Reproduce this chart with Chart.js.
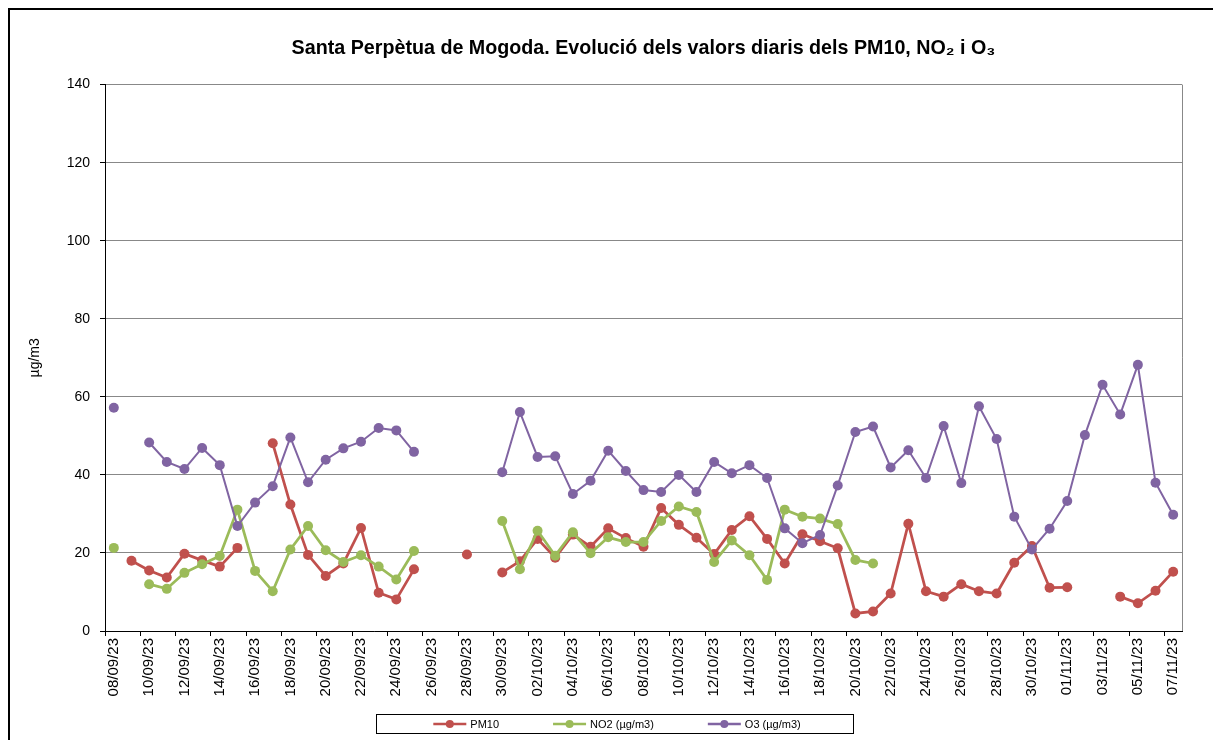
<!DOCTYPE html>
<html>
<head>
<meta charset="utf-8">
<script src="https://cdn.jsdelivr.net/npm/chart.js@4/dist/chart.umd.min.js"></script>
<style>
  html, body { margin: 0; padding: 0; background: #fff; }
  canvas { display: block; }
</style>
</head>
<body>
<canvas id="grafic" width="1213" height="740"></canvas>
<script>
/* ── DADES ── valors llegits del gràfic original */
var dies = [
  '08/09/23', '09/09/23', '10/09/23', '11/09/23', '12/09/23', '13/09/23', '14/09/23', '15/09/23',
  '16/09/23', '17/09/23', '18/09/23', '19/09/23', '20/09/23', '21/09/23', '22/09/23', '23/09/23',
  '24/09/23', '25/09/23', '26/09/23', '27/09/23', '28/09/23', '29/09/23', '30/09/23',
  '01/10/23', '02/10/23', '03/10/23', '04/10/23', '05/10/23', '06/10/23', '07/10/23', '08/10/23',
  '09/10/23', '10/10/23', '11/10/23', '12/10/23', '13/10/23', '14/10/23', '15/10/23', '16/10/23',
  '17/10/23', '18/10/23', '19/10/23', '20/10/23', '21/10/23', '22/10/23', '23/10/23', '24/10/23',
  '25/10/23', '26/10/23', '27/10/23', '28/10/23', '29/10/23', '30/10/23', '31/10/23',
  '01/11/23', '02/11/23', '03/11/23', '04/11/23', '05/11/23', '06/11/23', '07/11/23'
];

var pm10 = [
  null, 18.0, 15.5, 13.7, 19.8, 18.1, 16.5, 21.3, null, 48.1, 32.4, 19.5, 14.1, 17.3, 26.4, 9.8,
  8.1, 15.8, null, null, 19.6, null, 15.0, 17.9, 23.6, 18.8, 24.7, 21.6, 26.3, 23.8, 21.6, 31.5,
  27.2, 23.9, 19.7, 25.9, 29.4, 23.6, 17.3, 24.8, 23.0, 21.2, 4.5, 5.0, 9.6, 27.5, 10.2, 8.8,
  12.0, 10.2, 9.6, 17.5, 21.8, 11.1, 11.2, null, null, 8.8, 7.1, 10.3, 15.2
];

var no2 = [
  21.3, null, 12.0, 10.8, 14.9, 17.1, 19.2, 31.1, 15.4, 10.2, 20.9, 26.9, 20.7, 17.7, 19.4, 16.5,
  13.2, 20.5, null, null, null, null, 28.2, 15.8, 25.7, 19.3, 25.3, 19.9, 24.0, 22.8, 22.8, 28.2,
  31.9, 30.5, 17.7, 23.2, 19.4, 13.1, 31.1, 29.3, 28.8, 27.4, 18.2, 17.3, null, null, null, null,
  null, null, null, null, null, null, null, null, null, null, null, null, null
];

var o3 = [
  57.2, null, 48.3, 43.3, 41.5, 46.9, 42.5, 26.9, 32.9, 37.1, 49.6, 38.1, 43.9, 46.8, 48.5, 52.0,
  51.4, 45.9, null, null, null, null, 40.7, 56.1, 44.6, 44.8, 35.1, 38.5, 46.2, 41.0, 36.1, 35.6,
  40.0, 35.6, 43.3, 40.4, 42.5, 39.2, 26.3, 22.5, 24.6, 37.3, 51.0, 52.4, 41.9, 46.3, 39.2, 52.5,
  37.9, 57.6, 49.2, 29.3, 20.9, 26.2, 33.3, 50.2, 63.1, 55.5, 68.2, 38.0, 29.8
];

var series = ['PM10', 'NO2 (µg/m3)', 'O3 (µg/m3)'];
var colors = ['#c0504d', '#9bbb59', '#8064a2'];

Chart.defaults.font.family = "'Liberation Sans', Arial, sans-serif";
Chart.defaults.color = '#000';

/* marc exterior, vora dreta de l'àrea i llegenda amb caixa */
var decoracio = {
  id: 'decoracio',
  beforeDatasetsDraw: function (chart) {
    var a = chart.chartArea, ctx = chart.ctx;
    ctx.save();
    ctx.strokeStyle = '#888';
    ctx.lineWidth = 1;
    ctx.beginPath();
    ctx.moveTo(Math.round(a.right) + 0.5, a.top);
    ctx.lineTo(Math.round(a.right) + 0.5, a.bottom);
    ctx.stroke();
    ctx.restore();
  },
  afterDraw: function (chart) {
    var ctx = chart.ctx;
    ctx.save();
    ctx.strokeStyle = '#000';
    ctx.lineWidth = 2;
    ctx.strokeRect(9, 9, chart.width + 20, chart.height + 20);

    /* llegenda */
    ctx.font = "11px 'Liberation Sans', Arial, sans-serif";
    var marca = 33, gap = 4, sep = 54, y = 724;
    var amples = series.map(function (s) { return marca + gap + ctx.measureText(s).width; });
    var total = amples.reduce(function (s, w) { return s + w; }, 0) + sep * (series.length - 1);
    var x = 617 - total / 2;
    ctx.lineWidth = 1;
    ctx.strokeStyle = '#000';
    ctx.strokeRect(376.5, 714.5, 477, 19);
    series.forEach(function (s, i) {
      ctx.strokeStyle = colors[i];
      ctx.fillStyle = colors[i];
      ctx.lineWidth = 2.5;
      ctx.beginPath();
      ctx.moveTo(x, y);
      ctx.lineTo(x + marca, y);
      ctx.stroke();
      ctx.beginPath();
      ctx.arc(x + marca / 2, y, 4, 0, Math.PI * 2);
      ctx.fill();
      ctx.fillStyle = '#000';
      ctx.textBaseline = 'middle';
      ctx.fillText(s, x + marca + gap, y + 0.5);
      x += amples[i] + sep;
    });
    ctx.restore();
  }
};

function serie(i, dades, gruix, ordre) {
  return {
    label: series[i],
    data: dades,
    borderColor: colors[i],
    backgroundColor: colors[i],
    borderWidth: gruix,
    pointRadius: 5,
    pointBorderWidth: 0,
    pointBackgroundColor: colors[i],
    spanGaps: false,
    tension: 0,
    order: ordre
  };
}

new Chart(document.getElementById('grafic'), {
  type: 'line',
  data: {
    labels: dies,
    datasets: [
      serie(0, pm10, 2.75, 3),
      serie(1, no2, 2.75, 2),
      serie(2, o3, 2, 1)
    ]
  },
  options: {
    responsive: false,
    animation: false,
    layout: { padding: { top: 0, right: 31, bottom: 0, left: 0 } },
    plugins: {
      legend: { display: false },
      tooltip: { enabled: false },
      title: {
        display: true,
        fullSize: false,
        text: 'Santa Perpètua de Mogoda. Evolució dels valors diaris dels PM10, NO₂ i O₃',
        font: { size: 19.7, weight: 'bold' },
        padding: { top: 37, bottom: 24 }
      }
    },
    scales: {
      x: {
        offset: true,
        afterFit: function (scale) { scale.height = 109; },
        border: { color: '#000', width: 1 },
        grid: {
          offset: true,
          drawOnChartArea: false,
          tickLength: 5,
          tickColor: function (c) { return c.index % 2 === 0 ? '#000' : 'rgba(0,0,0,0)'; }
        },
        ticks: {
          autoSkip: false,
          minRotation: 90,
          maxRotation: 90,
          padding: 2,
          font: { size: 15 },
          callback: function (v, i) { return i % 2 === 0 ? dies[i] : ''; }
        }
      },
      y: {
        min: 0,
        max: 140,
        afterFit: function (scale) { scale.width = 105; },
        border: { color: '#000', width: 1 },
        grid: { color: '#888', tickColor: '#000', tickLength: 5 },
        ticks: { stepSize: 20, padding: 10, font: { size: 14 } },
        title: {
          display: true,
          text: 'µg/m3',
          font: { size: 14 },
          padding: { top: 27, bottom: 0 }
        }
      }
    }
  },
  plugins: [decoracio]
});
</script>
</body>
</html>
